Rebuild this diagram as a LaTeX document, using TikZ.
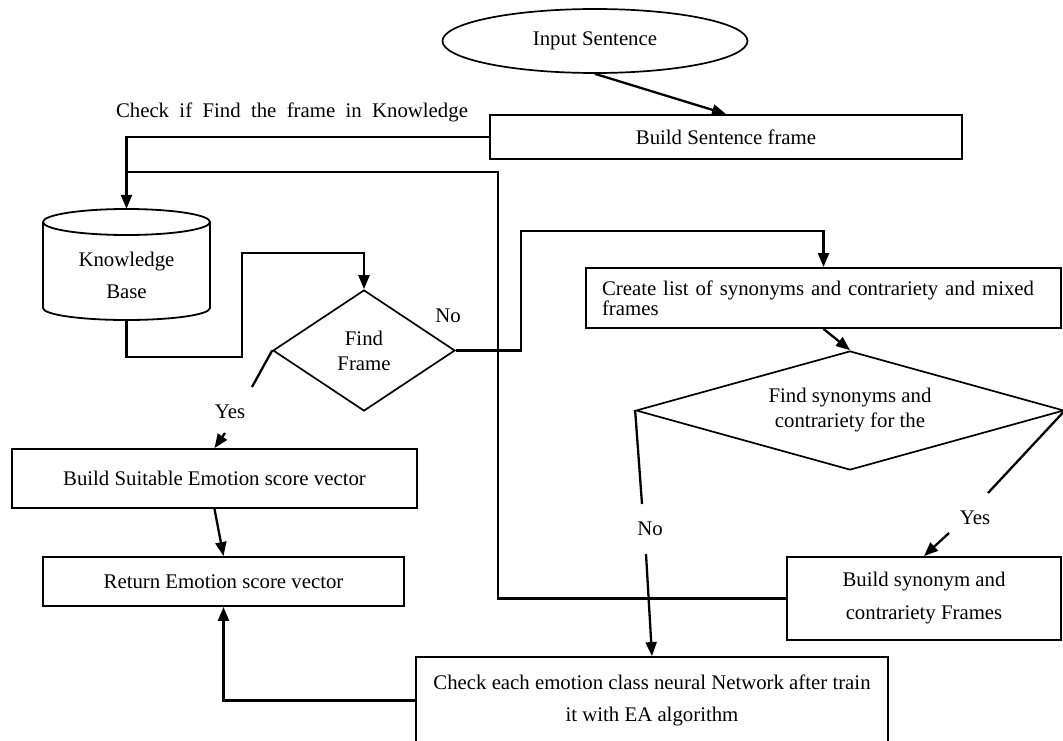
\documentclass[tikz,border=0pt]{standalone}
\usepackage{fontspec}
\setmainfont{Liberation Serif}
\usetikzlibrary{arrows.meta,shapes.geometric}
\begin{document}
\begin{tikzpicture}[x=1pt,y=-1pt,
  font=\fontsize{20.8pt}{25pt}\selectfont,
  box/.style={draw,line width=1.9pt,rectangle,inner sep=0pt,align=center},
  dia/.style={draw,line width=1.7pt,diamond,inner sep=0pt,align=center},
  conn/.style={line width=2.3pt},
  arr/.style={conn,-{Triangle[length=14pt,width=11pt]}},
  lbl/.style={inner sep=0pt}]
\useasboundingbox (0,0) rectangle (1063,741);
\clip (0,0) rectangle (1063,741);

% nodes
\node[draw,ellipse,line width=1.7pt,inner sep=0pt,minimum width=305pt,minimum height=64pt] (in) at (595,41) {Input Sentence};
\node[box,minimum width=472pt,minimum height=44pt] (bsf) at (726,137) {Build Sentence frame};
\node[lbl] (lab) at (292,112) {\makebox[352pt][s]{Check if Find the frame in Knowledge}};

\node[inner sep=0pt,minimum width=167pt,minimum height=111pt] (kb) at (126.5,264.5) {};
\draw[line width=1.8pt] (126.5,222) ellipse [x radius=83.5pt, y radius=13pt];
\draw[line width=1.8pt] (43,222) -- (43,308) arc[start angle=180,end angle=360,x radius=83.5pt,y radius=12pt] -- (210,222);
\node[align=center,font=\fontsize{20.8pt}{32pt}\selectfont] (kbt) at (126.5,275) {Knowledge\\Base};

\node[dia,minimum width=182pt,minimum height=121pt] (ff) at (364,350.5) {Find\\Frame};
\node[lbl] (no1) at (448,316) {No};

\node[box,align=left,text width=443pt,inner xsep=16pt,minimum height=60pt,font=\fontsize{20.8pt}{20pt}\selectfont] (cl) at (823.5,298)
  {\makebox[443pt][s]{Create list of synonyms and contrariety and mixed}\\frames};

\node[dia,shape aspect=3,minimum width=428pt,minimum height=119pt] (sd) at (850,410.5) {Find synonyms and\\contrariety for the};

\node[lbl] (yes1) at (230,412) {Yes};
\node[box,minimum width=405pt,minimum height=59pt] (bsev) at (214.5,478.5) {Build Suitable Emotion score vector};
\node[box,minimum width=361pt,minimum height=49pt] (rev) at (223.5,581.5) {Return Emotion score vector};

\node[lbl] (no2) at (650,529) {No};
\node[lbl] (yes2) at (975,518) {Yes};
\node[box,minimum width=274pt,minimum height=83pt,font=\fontsize{20.8pt}{33pt}\selectfont] (bsyn) at (924,598.5) {Build synonym and\\contrariety Frames};
\node[box,minimum width=472pt,minimum height=87pt,font=\fontsize{20.8pt}{32pt}\selectfont] (chk) at (652,700.5) {Check each emotion class neural Network after train\\it with EA algorithm};

% coordinates
\coordinate (fb) at (498,172);
\coordinate (k1) at (242,357);
\coordinate (k2) at (242,253);
\coordinate (n1) at (521,231);
\coordinate (ya) at (252,387);
\coordinate (yb) at (225,433);
\coordinate (na) at (642,504);
\coordinate (nb) at (646,554);
\coordinate (yc) at (988,493);
\coordinate (yd) at (949,533);

% connectors
\draw[arr] (in.south) -- (bsf.north);
\draw[arr] (bsf.west) -| (kb.north);
\draw[conn] (bsyn.west) -| (fb) -- (fb -| kb.north);
\draw[arr] (kb.south) |- (k1) -- (k2) -| (ff.north);
\draw[arr] (ff.east) -| (n1) -| (cl.north);
\draw[arr] (cl.south) -- (sd.north);
\draw[conn] (ff.west) -- (ya);
\draw[arr] (yb) -- (bsev.north);
\draw[arr] (bsev.south) -- (rev.north);
\draw[arr] (chk.west) -| (rev.south);
\draw[conn] (sd.west) -- (na);
\draw[arr] (nb) -- (chk.north);
\draw[conn] (sd.east) -- (yc);
\draw[arr] (yd) -- (bsyn.north);
\end{tikzpicture}
\end{document}
